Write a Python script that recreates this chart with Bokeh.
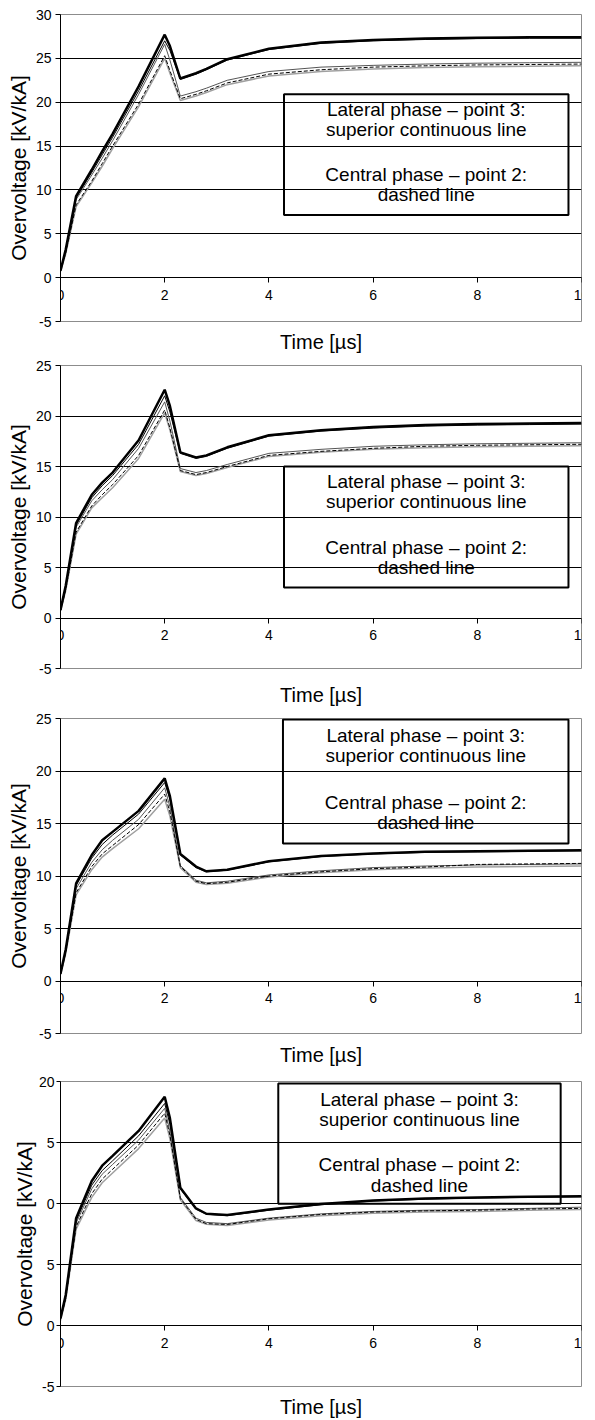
from bokeh.plotting import figure
from bokeh.models import Range1d, FixedTicker, LinearAxis, BoxAnnotation, Label
from bokeh.layouts import column
from bokeh.embed import file_html
from bokeh.resources import INLINE

# ---------------- data ----------------
time_us = [0, 0.1, 0.3, 0.6, 0.8, 1.0, 1.5, 2.0, 2.1, 2.3, 2.6, 2.8, 3.2, 4.0, 5.0, 6.0, 7.0, 8.0, 9.0, 10.0]

# panel 1
p1_lat3 = [0.8, 3.2, 9.3, 12.3, 14.4, 16.4, 21.8, 27.7, 26.4, 22.7, 23.3, 23.8, 24.9, 26.1, 26.8, 27.1, 27.25, 27.35, 27.4, 27.4]
p1_lat1 = [0.8, 3.1, 9.1, 12.0, 14.0, 16.0, 21.3, 27.0, 25.9, 22.6, 23.2, 23.7, 24.8, 26.0, 26.7, 27.0, 27.15, 27.25, 27.3, 27.3]
p1_cen1 = [0.8, 3.0, 8.9, 11.7, 13.6, 15.6, 20.9, 26.6, 24.8, 20.7, 21.2, 21.6, 22.5, 23.5, 24.0, 24.2, 24.35, 24.45, 24.5, 24.55]
p1_cen2 = [0.8, 2.8, 8.3, 11.0, 13.0, 15.0, 19.8, 25.3, 23.6, 20.4, 20.9, 21.3, 22.2, 23.2, 23.7, 24.0, 24.15, 24.25, 24.3, 24.35]
p1_cen3 = [0.7, 2.7, 8.1, 10.8, 12.7, 14.7, 19.5, 25.0, 23.3, 20.2, 20.7, 21.1, 22.0, 23.0, 23.5, 23.8, 23.95, 24.05, 24.1, 24.15]

# panel 2
p2_lat3 = [0.8, 3.2, 9.4, 12.2, 13.4, 14.4, 17.6, 22.6, 21.0, 16.4, 15.9, 16.1, 16.9, 18.1, 18.6, 18.9, 19.1, 19.2, 19.25, 19.3]
p2_lat1 = [0.8, 3.1, 9.2, 11.9, 13.1, 14.1, 17.2, 22.0, 20.4, 16.3, 15.8, 16.0, 16.8, 18.0, 18.5, 18.8, 19.0, 19.1, 19.15, 19.2]
p2_cen1 = [0.8, 3.0, 9.0, 11.6, 12.7, 13.7, 16.8, 21.4, 19.5, 14.8, 14.4, 14.6, 15.2, 16.3, 16.7, 17.0, 17.15, 17.25, 17.3, 17.35]
p2_cen2 = [0.7, 2.8, 8.5, 11.1, 12.2, 13.2, 16.1, 20.6, 18.8, 14.6, 14.2, 14.4, 15.0, 16.1, 16.5, 16.8, 17.0, 17.1, 17.15, 17.2]
p2_cen3 = [0.7, 2.7, 8.3, 10.9, 11.9, 12.9, 15.8, 20.3, 18.6, 14.5, 14.1, 14.3, 14.9, 16.0, 16.4, 16.7, 16.85, 16.95, 17.0, 17.05]

# panel 3
p3_lat3 = [0.7, 3.0, 9.3, 12.0, 13.4, 14.2, 16.2, 19.3, 17.6, 12.1, 10.9, 10.45, 10.6, 11.4, 11.9, 12.15, 12.3, 12.35, 12.4, 12.45]
p3_lat1 = [0.7, 2.9, 9.1, 11.7, 13.0, 13.9, 15.9, 18.9, 17.3, 12.0, 10.8, 10.4, 10.55, 11.35, 11.85, 12.1, 12.25, 12.3, 12.35, 12.4]
p3_cen1 = [0.7, 2.8, 8.8, 11.3, 12.5, 13.4, 15.4, 18.4, 16.6, 11.0, 9.6, 9.35, 9.5, 10.1, 10.5, 10.8, 10.95, 11.05, 11.1, 11.15]
p3_cen2 = [0.6, 2.7, 8.4, 10.9, 12.1, 12.9, 14.9, 17.8, 16.1, 10.9, 9.5, 9.27, 9.4, 10.0, 10.4, 10.7, 10.85, 11.1, 11.15, 11.2]
p3_cen3 = [0.6, 2.6, 8.2, 10.6, 11.8, 12.6, 14.5, 17.3, 15.7, 10.8, 9.4, 9.2, 9.3, 9.9, 10.3, 10.6, 10.75, 10.85, 10.9, 10.95]

# panel 4
p4_lat3 = [0.6, 2.5, 8.8, 11.85, 13.1, 13.9, 15.95, 18.75, 17.0, 11.3, 9.6, 9.16, 9.05, 9.5, 9.95, 10.25, 10.4, 10.5, 10.55, 10.6]
p4_lat1 = [0.6, 2.4, 8.6, 11.5, 12.7, 13.5, 15.55, 18.2, 16.5, 11.2, 9.55, 9.12, 9.0, 9.45, 9.9, 10.2, 10.35, 10.45, 10.5, 10.55]
p4_cen1 = [0.5, 2.3, 8.4, 11.2, 12.4, 13.2, 15.2, 17.8, 15.9, 10.5, 8.8, 8.45, 8.35, 8.8, 9.15, 9.35, 9.45, 9.5, 9.6, 9.7]
p4_cen2 = [0.5, 2.2, 8.1, 10.8, 12.0, 12.8, 14.8, 17.4, 15.6, 10.4, 8.7, 8.35, 8.28, 8.75, 9.1, 9.3, 9.4, 9.45, 9.55, 9.6]
p4_cen3 = [0.4, 2.1, 7.9, 10.5, 11.7, 12.5, 14.5, 17.0, 15.3, 10.3, 8.6, 8.3, 8.2, 8.65, 9.0, 9.2, 9.3, 9.35, 9.45, 9.5]

x_ticks = [0, 2, 4, 6, 8, 10]
y_max = [30, 25, 25, 20]
y_min = -5
note_lines = ["Lateral phase – point 3:", "superior continuous line",
              "Central phase – point 2:", "dashed line"]
x_title = "Time [µs]"
y_title = "Overvoltage [kV/kA]"
p4_label_overrides = {15: "5", 10: "0"}

panel_series = [
    (p1_lat3, p1_lat1, p1_cen1, p1_cen2, p1_cen3),
    (p2_lat3, p2_lat1, p2_cen1, p2_cen2, p2_cen3),
    (p3_lat3, p3_lat1, p3_cen1, p3_cen2, p3_cen3),
    (p4_lat3, p4_lat1, p4_cen1, p4_cen2, p4_cen3),
]

# ---------------- layout / styling ----------------
FONT = "Liberation Sans"
W = 595
layout_cfg = [
    dict(height=355, top=14, left=60, frame_w=530, t_standoff=9,
         box=(4.29, 9.75, 7.15, 20.9), tx=7.02, ty=[19.2, 16.9, 11.75, 9.45]),
    dict(height=353, top=10, left=60, frame_w=530, t_standoff=15,
         box=(4.29, 9.75, 3.03, 15.0), tx=7.02, ty=[13.5, 11.5, 7.02, 5.02]),
    dict(height=360, top=10, left=60, frame_w=530, t_standoff=10,
         box=(4.27, 9.75, 13.1, 24.9), tx=7.01, ty=[23.4, 21.45, 17.0, 15.07]),
    dict(height=352, top=13, left=50, frame_w=531, t_standoff=9,
         box=(4.18, 9.6, 9.98, 19.84), tx=6.89, ty=[18.55, 16.86, 13.2, 11.5]),
]

figs = []
for i, (cfg, series) in enumerate(zip(layout_cfg, panel_series)):
    lat3, lat1, cen1, cen2, cen3 = series
    ymax = y_max[i]
    p = figure(width=W, height=cfg["height"],
               x_range=Range1d(0, 10), y_range=Range1d(y_min, ymax),
               output_backend="svg", toolbar_location=None,
               min_border_left=cfg["left"], min_border_right=W - cfg["left"] - cfg["frame_w"],
               min_border_top=cfg["top"], min_border_bottom=20,
               background_fill_color="white", border_fill_color="white")
    p.outline_line_color = "#8c8c8c"
    p.outline_line_width = 1

    yt = list(range(y_min, ymax + 1, 5))
    p.xgrid.visible = False
    p.ygrid.ticker = FixedTicker(ticks=[t for t in yt if y_min < t < ymax])
    p.ygrid.grid_line_color = "black"
    p.ygrid.grid_line_width = 1

    overrides = {-5: "-5"}
    if i == 3:
        overrides.update(p4_label_overrides)

    ya = p.yaxis[0]
    ya.ticker = FixedTicker(ticks=yt)
    ya.major_label_overrides = overrides
    ya.axis_label = y_title
    ya.axis_label_text_font = FONT
    ya.axis_label_text_font_size = "21px"
    ya.axis_label_text_font_style = "normal"
    ya.axis_label_text_color = "black"
    ya.axis_label_standoff = 3 if i < 3 else 0
    ya.major_label_text_font = FONT
    ya.major_label_text_font_size = "14px"
    ya.major_label_text_color = "black"
    ya.major_label_standoff = 4 if i < 3 else 2
    ya.major_tick_out = 5 if i < 3 else 4
    ya.major_tick_in = 0
    ya.minor_tick_line_color = None
    ya.axis_line_color = "black"
    ya.major_tick_line_color = "black"

    xa = p.xaxis[0]
    xa.ticker = FixedTicker(ticks=x_ticks)
    xa.fixed_location = 0
    xa.major_label_text_font = FONT
    xa.major_label_text_font_size = "14px"
    xa.major_label_text_color = "black"
    xa.major_label_standoff = 7
    xa.major_tick_out = 5
    xa.major_tick_in = 0
    xa.minor_tick_line_color = None
    xa.axis_line_color = "black"
    xa.major_tick_line_color = "black"

    ta = LinearAxis(ticker=FixedTicker(ticks=[]), axis_label=x_title,
                    axis_line_color=None, major_tick_out=0, major_tick_in=0,
                    minor_tick_line_color=None, major_label_standoff=0,
                    axis_label_standoff=cfg["t_standoff"],
                    axis_label_text_font=FONT, axis_label_text_font_size="20px",
                    axis_label_text_font_style="normal", axis_label_text_color="black")
    p.add_layout(ta, "below")

    p.line(time_us, cen3, line_color="#a0a0a0", line_width=1.5)
    p.line(time_us, cen1, line_color="#555555", line_width=1)
    p.line(time_us, cen2, line_color="black", line_width=1, line_dash="4 2")
    p.line(time_us, lat1, line_color="black", line_width=1)
    p.line(time_us, lat3, line_color="black", line_width=2.5)

    l, r, b, t = cfg["box"]
    p.add_layout(BoxAnnotation(left=l, right=r, bottom=b, top=t, fill_alpha=0,
                               line_color="black", line_alpha=1.0, line_width=2))
    for txt, yy in zip(note_lines, cfg["ty"]):
        p.add_layout(Label(x=cfg["tx"], y=yy, text=txt, text_align="center",
                           text_baseline="middle", text_font=FONT,
                           text_font_size="19px", text_color="black"))
    figs.append(p)

layout = column(*figs, spacing=0)
open("out.html", "w").write(file_html(layout, INLINE))
